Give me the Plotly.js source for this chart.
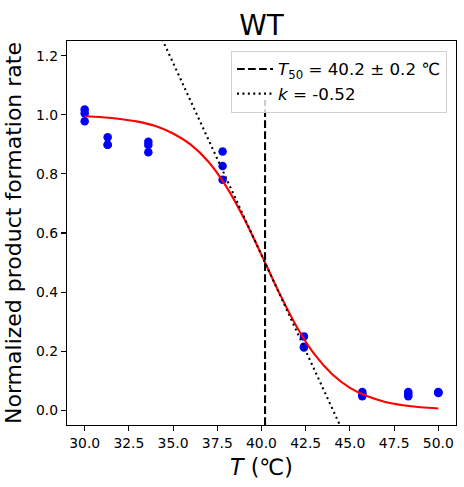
<!DOCTYPE html>
<html>
<head>
<meta charset="utf-8">
<script src="https://cdn.plot.ly/plotly-3.0.1.min.js"></script>
<style>html,body{margin:0;padding:0;background:#fff;}#chart{width:464px;height:487px;}</style>
</head>
<body>
<div id="chart"></div>
<script>
// Measured data (temperature in °C, normalized rate)
const tempData = [30.0, 30.0, 30.0, 31.3, 31.3, 31.3, 33.6, 33.6, 33.6, 37.8, 37.8, 37.8,
                  42.4, 42.4, 42.4, 45.7, 45.7, 45.7, 48.3, 48.3, 48.3, 50.0, 50.0, 50.0];
const rateData = [1.018, 1.005, 0.978, 0.924, 0.899, 0.899, 0.909, 0.898, 0.873, 0.876, 0.827, 0.780,
                  0.250, 0.212, 0.215, 0.062, 0.047, 0.055, 0.062, 0.047, 0.055, 0.062, 0.060, 0.058];

// Fitted sigmoid curve
const fitT = [30, 31, 32, 33, 34, 35, 36, 37, 38, 39, 40, 41, 42, 43, 44, 45, 46, 47, 48, 49, 50];
const fitY = [0.995, 0.992, 0.986, 0.977, 0.962, 0.937, 0.899, 0.841, 0.758, 0.651, 0.526, 0.398,
              0.282, 0.189, 0.122, 0.076, 0.047, 0.028, 0.017, 0.010, 0.006];

// Tangent line at T50 (slope k/4)
const tangentT = [34.0, 45.0];
const tangentY = [1.306, -0.124];

const T50 = 40.2;
const T50err = 0.2;
const kVal = -0.52;
const T50lineY = [-0.05, 1.05];

const xTicks = [30.0, 32.5, 35.0, 37.5, 40.0, 42.5, 45.0, 47.5, 50.0];
const yTicks = [0.0, 0.2, 0.4, 0.6, 0.8, 1.0, 1.2];

const FONT = 'DejaVu Sans, Liberation Sans, sans-serif';

const traces = [
  {x: tempData, y: rateData, mode: 'markers', type: 'scatter', showlegend: false,
   marker: {color: '#0000ff', size: 8.5}},
  {x: fitT, y: fitY, mode: 'lines', type: 'scatter', showlegend: false,
   line: {color: '#ff0000', width: 2.1, shape: 'spline'}},
  {x: [T50, T50], y: T50lineY, mode: 'lines', type: 'scatter',
   name: '<i>T</i><sub>50</sub> = ' + T50.toFixed(1) + ' ± ' + T50err.toFixed(1) + ' ℃',
   line: {color: '#000', width: 2.1, dash: '7.7px,3.3px'}},
  {x: tangentT, y: tangentY, mode: 'lines', type: 'scatter',
   name: '<i>k</i> = ' + kVal.toFixed(2),
   line: {color: '#000', width: 2.1, dash: '2px,3.4px'}}
];

const axisCommon = {
  showline: true, mirror: true, linecolor: '#000', linewidth: 1.1,
  ticks: 'outside', ticklen: 5, tickwidth: 1.1, tickcolor: '#000',
  showgrid: false, zeroline: false,
  tickfont: {family: FONT, size: 13.9, color: '#000'}
};

const layout = {
  width: 464, height: 487,
  margin: {l: 67.3, r: 8.3, t: 40.5, b: 61.5, pad: 0},
  paper_bgcolor: '#fff', plot_bgcolor: '#fff',
  font: {family: FONT, color: '#000'},
  title: {text: 'WT', font: {family: FONT, size: 27.8, color: '#000'},
          x: 0.5, xref: 'paper', xanchor: 'center', y: 1 - 25 / 487, yref: 'container', yanchor: 'middle'},
  xaxis: Object.assign({}, axisCommon, {
    range: [29, 51], tickvals: xTicks, ticktext: xTicks.map(v => v.toFixed(1)),
    title: {text: '<i>T</i> (℃)', font: {family: FONT, size: 22.2, color: '#000'}, standoff: 9}
  }),
  yaxis: Object.assign({}, axisCommon, {
    range: [-0.05, 1.25], tickvals: yTicks, ticktext: yTicks.map(v => v.toFixed(1)),
    title: {text: 'Normalized product formation rate', font: {family: FONT, size: 22, color: '#000'}, standoff: 8}
  }),
  legend: {
    x: 0.977, xanchor: 'right', y: 0.975, yanchor: 'top',
    bgcolor: 'rgba(255,255,255,0.8)', bordercolor: '#d0d0d0', borderwidth: 1,
    font: {family: FONT, size: 16.7, color: '#000'},
    itemwidth: 36, tracegroupgap: 0
  }
};

Plotly.newPlot('chart', traces, layout, {displayModeBar: false, staticPlot: true});
</script>
</body>
</html>
